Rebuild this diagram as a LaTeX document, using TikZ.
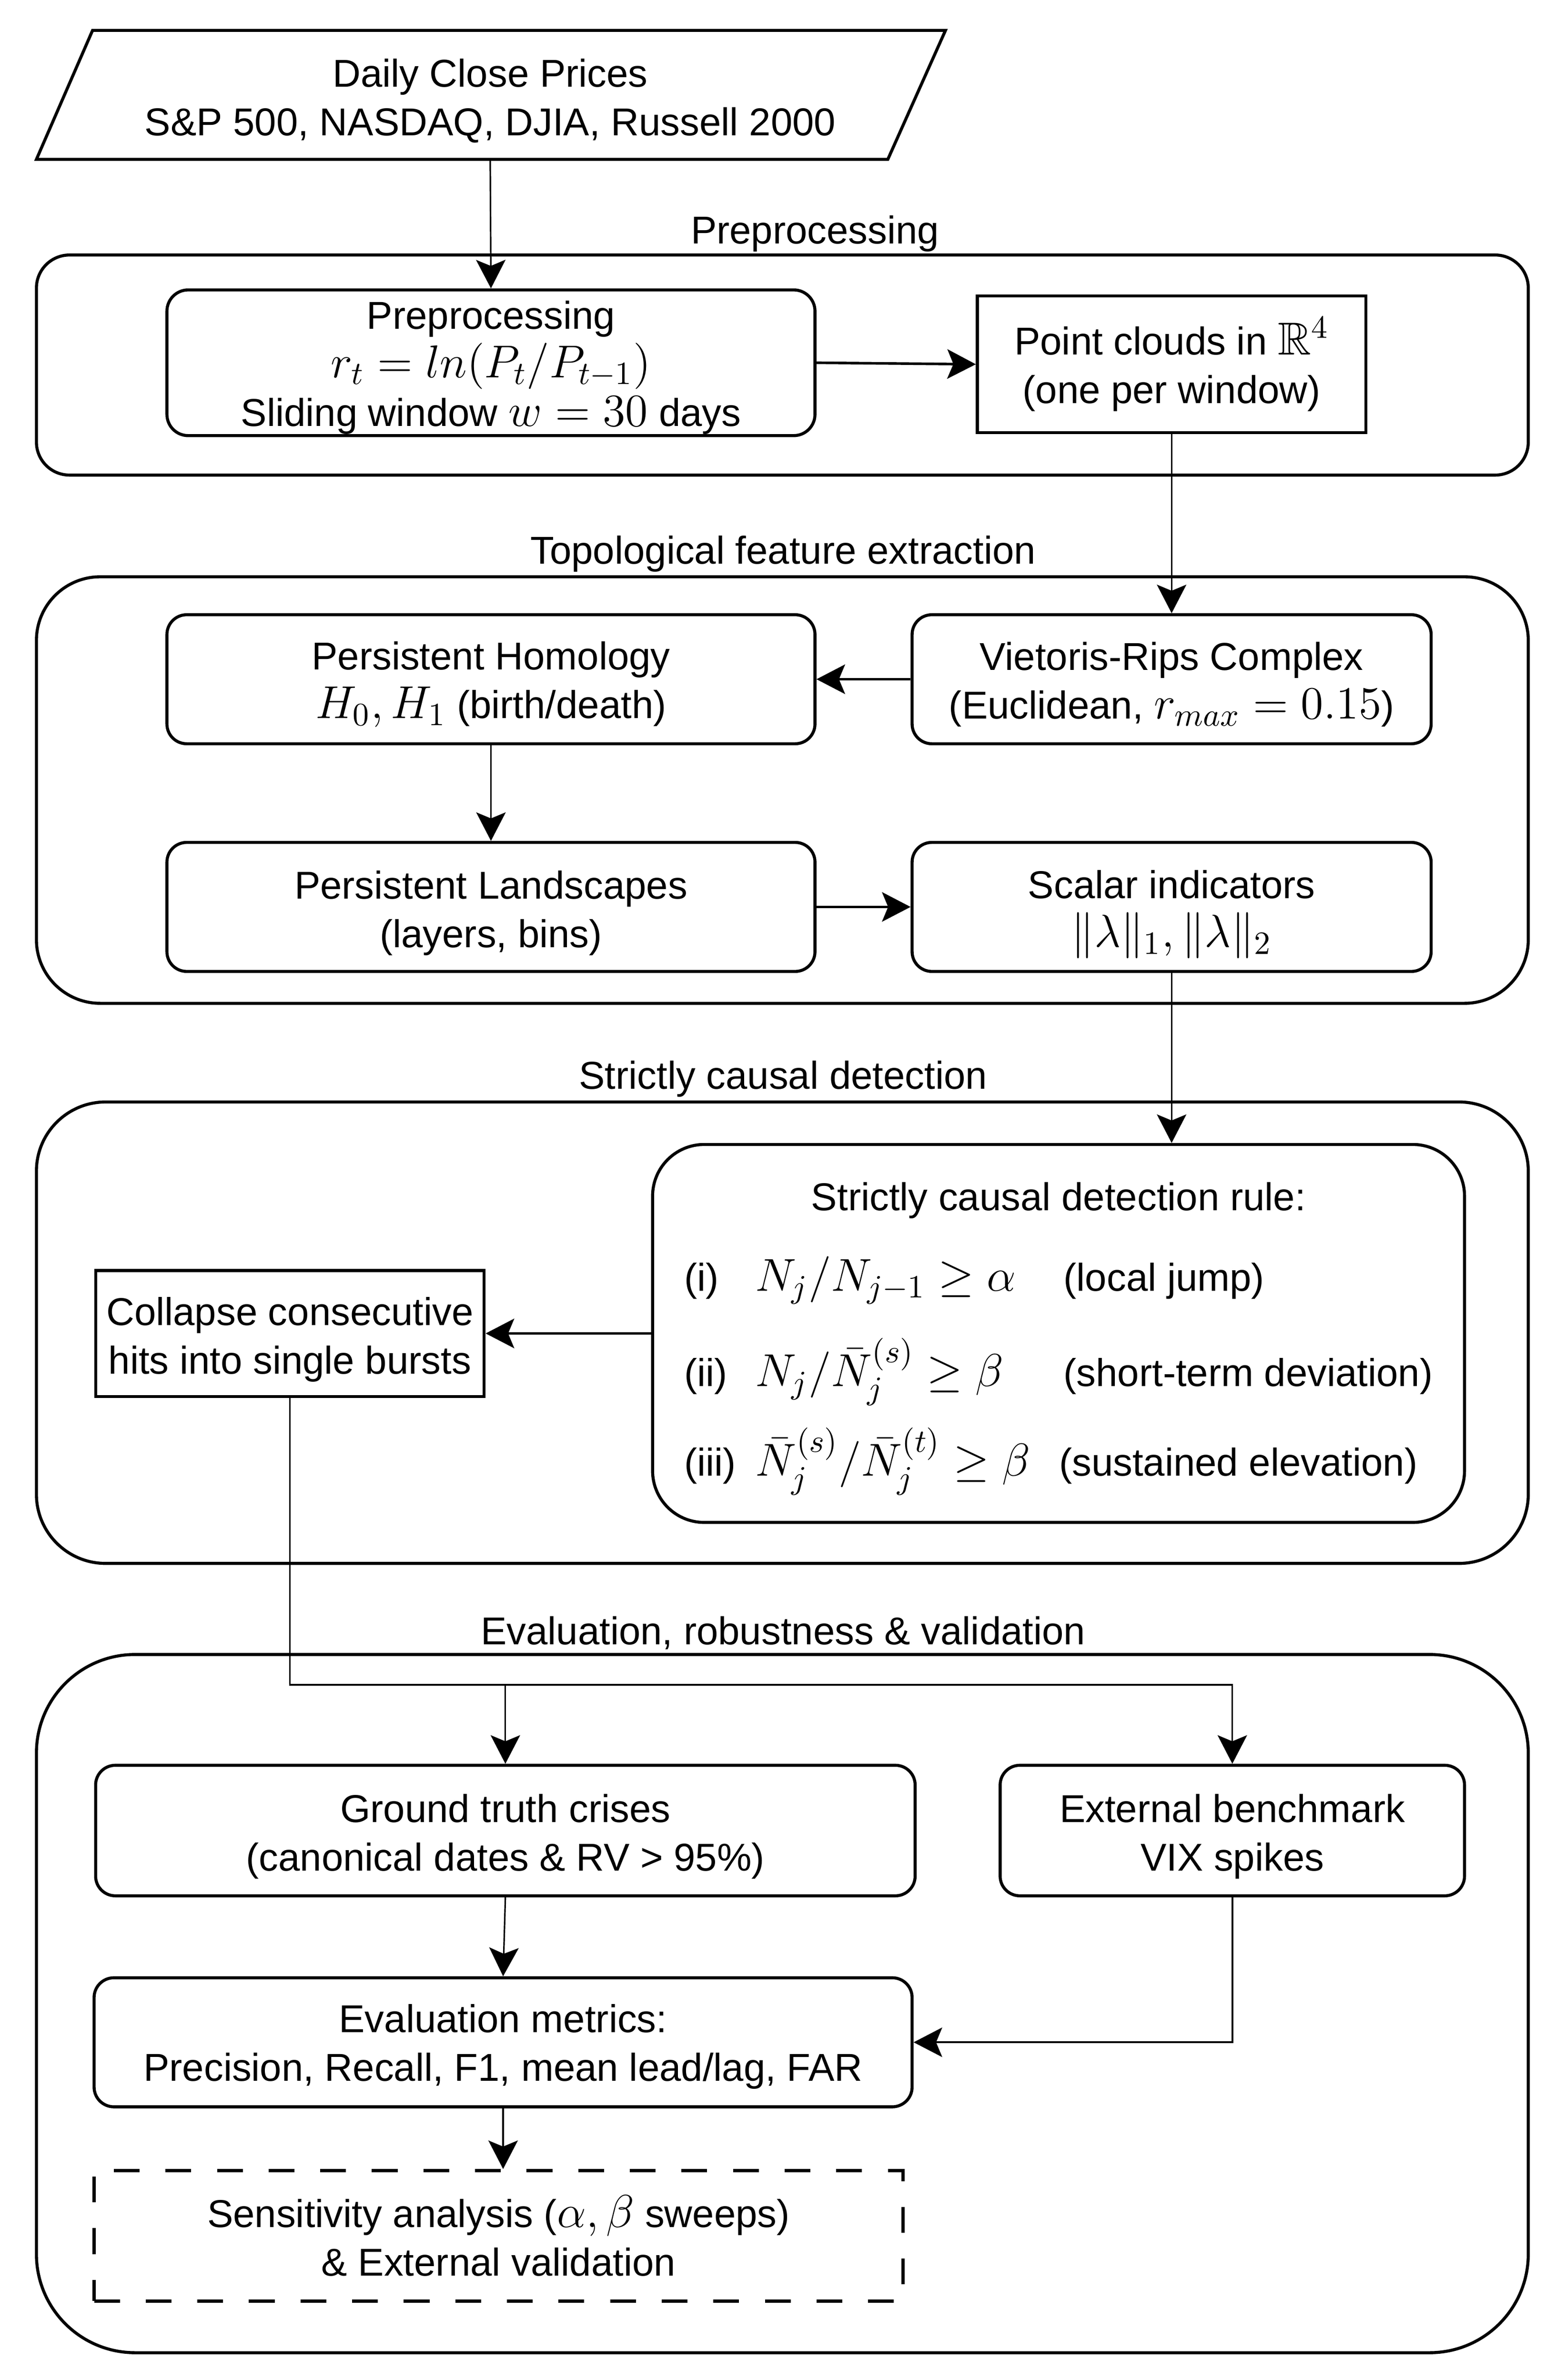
\RequirePackage{fix-cm}
\documentclass[tikz,border=0pt]{standalone}
\usepackage{amsmath,amssymb}
\usepackage{fontspec}
\setmainfont{Liberation Sans}
\DeclareMathSizes{12.8}{15.2}{10.7}{8.6}
\newcommand{\tstrut}[1]{\rule{0pt}{#1}}
\usetikzlibrary{arrows.meta,calc}
\begin{document}
\begin{tikzpicture}[x=0.5pt,y=-0.5pt,
  every node/.style={font=\fontsize{12.8}{16}\selectfont, align=center, inner sep=0pt},
  cont/.style={draw, line width=1pt},
  rbox/.style={draw, line width=1pt, rounded corners=6.5pt},
  sbox/.style={draw, line width=1pt},
  dbox/.style={draw, line width=1pt, dash pattern=on 8.5pt off 8.5pt},
  arr/.style={-{Stealth[length=9.4pt,width=9.7pt,inset=2pt]}},
  varr/.style={arr, line width=0.5pt},
  harr/.style={arr, line width=0.85pt},
  marr/.style={arr, line width=0.65pt},
  lbl/.style={text height=9.2pt, text depth=2.7pt}
]
\useasboundingbox (0,0) rectangle (1024,1557.5);
\begin{scope}[transform canvas={scale=0.9933}]
% containers
\node[cont, rounded corners=10.9pt, minimum width=491.5pt, minimum height=72.5pt] (c1) at (515.5,240.5) {};
\node[cont, rounded corners=21pt, minimum width=491.5pt, minimum height=140.5pt] (c2) at (515.5,520.5) {};
\node[cont, rounded corners=22.8pt, minimum width=491.5pt, minimum height=152pt] (c3) at (515.5,878) {};
\node[cont, rounded corners=32.5pt, minimum width=491.5pt, minimum height=230pt] (c4) at (515.5,1320) {};

\node[lbl] (c1l) at (537,154) {Preprocessing};
\node[lbl] (c2l) at (516,365) {Topological feature extraction};
\node[lbl] (c3l) at (516,711) {Strictly causal detection};
\node[lbl] (c4l) at (516,1077) {Evaluation, robustness \& validation};

% source
\draw[line width=1pt] (61,20) -- (623,20) -- (585,105) -- (24,105) -- cycle;
\node[minimum width=281pt, minimum height=42.5pt] (src) at (323,62.5) {\tstrut{13.3pt}Daily Close Prices\\S\&P 500, NASDAQ, DJIA, Russell 2000};

% preprocessing
\node[rbox, rounded corners=7pt, minimum width=213.5pt, minimum height=48pt] (pre) at (323.5,239) {\tstrut{12.3pt}Preprocessing\\$r_t = ln(P_t/P_{t-1})$\\Sliding window $w = 30$ days};
\node[sbox, minimum width=128pt, minimum height=45pt] (pc) at (772,240) {Point clouds in $\mathbb{R}^4$\\(one per window)};

% topological
\node[rbox, minimum width=213.5pt, minimum height=42.5pt] (ph) at (323.5,447.5) {\tstrut{12.8pt}Persistent Homology\\$H_0, H_1$ (birth/death)};
\node[rbox, minimum width=171pt, minimum height=42.5pt] (vr) at (772,447.5) {\tstrut{12.8pt}Vietoris-Rips Complex\\(Euclidean, $r_{max} = 0.15$)};
\node[rbox, minimum width=213.5pt, minimum height=42.5pt] (pl) at (323.5,597.5) {\tstrut{13.3pt}Persistent Landscapes\\(layers, bins)};
\node[rbox, minimum width=171pt, minimum height=42.5pt] (sc) at (772,597.5) {\tstrut{14.3pt}Scalar indicators\\$\|\lambda\|_1, \|\lambda\|_2$};

% detection
\node[rbox, rounded corners=17pt, minimum width=267.5pt, minimum height=124.5pt] (rule) at (697.5,878.5) {%
\begin{tabular}{@{}l@{}}
\multicolumn{1}{c}{Strictly causal detection rule:}\\[10.5pt]
\makebox[23.5pt][l]{(i)}\makebox[101.5pt][l]{\smash{$N_j/N_{j-1} \geq \alpha$}}(local jump)\\[15.5pt]
\makebox[23.5pt][l]{(ii)}\makebox[101.5pt][l]{\smash{$N_j/\bar{N}_j^{(s)} \geq \beta$}}(short-term deviation)\\[13.5pt]
\makebox[23.5pt][l]{(iii)}\makebox[100pt][l]{\smash{$\bar{N}_j^{(s)}/\bar{N}_j^{(t)} \geq \beta$}}(sustained elevation)
\end{tabular}};
\node[sbox, minimum width=128pt, minimum height=41.5pt] (col) at (191,878.5) {\tstrut{13.3pt}Collapse consecutive\\hits into single bursts};

% evaluation
\node[rbox, minimum width=270pt, minimum height=43pt] (gt) at (333,1206) {\tstrut{13.3pt}Ground truth crises\\(canonical dates \& RV > 95\%)};
\node[rbox, minimum width=153pt, minimum height=43pt] (ext) at (812,1206) {\tstrut{13.3pt}External benchmark\\VIX spikes};
\node[rbox, minimum width=269.5pt, minimum height=42.5pt] (ev) at (331.5,1345.5) {\tstrut{12.3pt}Evaluation metrics:\\Precision, Recall, F1, mean lead/lag, FAR};
\node[dbox, minimum width=266.5pt, minimum height=43pt] (sens) at (328.5,1473) {Sensitivity analysis ($\alpha, \beta$ sweeps)\\\& External validation};

% connectors
\draw[varr] (src.south) -- (pre.north);
\draw[harr] (pre.east) -- (pc.west);
\draw[varr] (pc.south) -- (vr.north);
\draw[harr] (vr.west) -- (ph.east);
\draw[varr] (ph.south) -- (pl.north);
\draw[harr] (pl.east) -- (sc.west);
\draw[varr] (sc.south) -- (sc.south |- rule.north);
\draw[harr] (rule.west) -- (col.east);
\coordinate (bus) at (191,1110);
\draw[varr] (col.south) -- (bus) -| (ext.north);
\draw[varr] (bus -| gt.north) -- (gt.north);
\draw[varr] (gt.south) -- (ev.north);
\draw[marr] (ext.south) |- (ev.east);
\draw[varr] (ev.south) -- (ev.south |- sens.north);
\end{scope}
\end{tikzpicture}
\end{document}
